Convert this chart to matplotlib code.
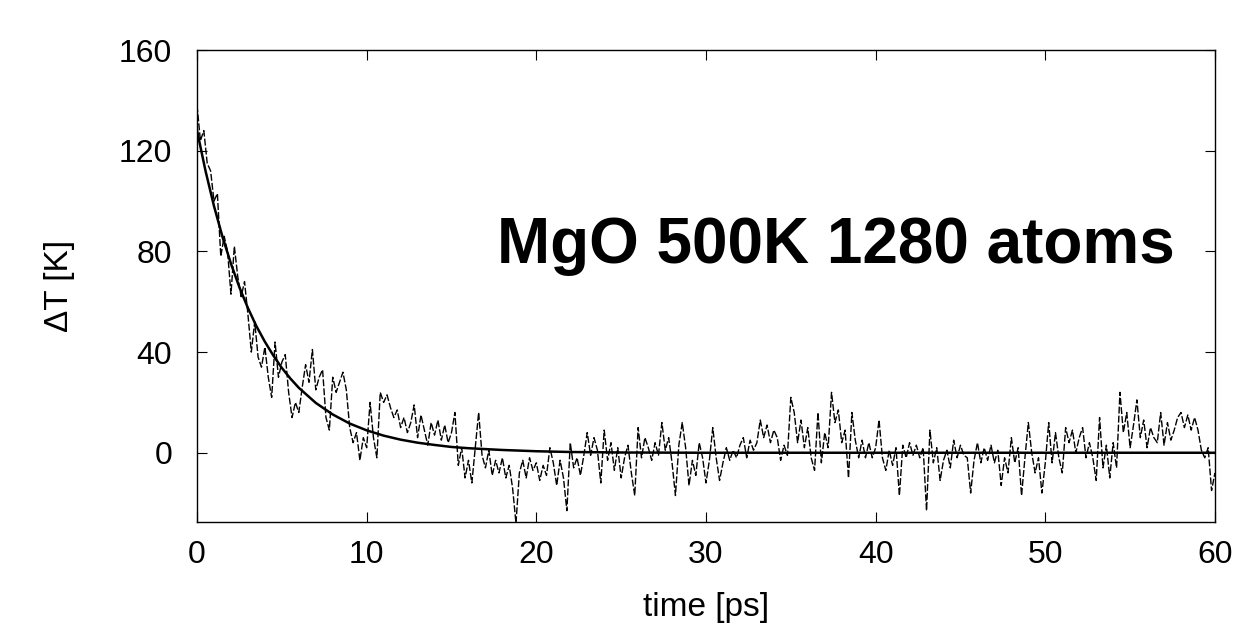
import numpy as np
import matplotlib
matplotlib.use("Agg")
import matplotlib.pyplot as plt

plt.rcParams['font.family'] = ['Liberation Sans', 'DejaVu Sans']

time_ps = np.round(np.arange(0, 60.01, 0.2), 1)
delta_t = [
    138, 124, 128, 115, 112, 100, 103, 78, 86, 80,
    63, 82, 70, 62, 68, 55, 40, 52, 38, 34,
    42, 30, 22, 44, 30, 36, 39, 24, 14, 20,
    16, 26, 35, 28, 41, 25, 30, 33, 14, 9,
    30, 24, 28, 32, 25, 10, 4, 8, -3, 6,
    2, 20, 6, -2, 24, 20, 23, 18, 14, 17,
    10, 14, 8, 12, 19, 6, 15, 9, 3, 12,
    7, 13, 5, 11, 4, 8, 16, -5, 2, -10,
    -3, -12, 2, 16, -1, -6, 1, -9, -3, -8,
    -2, -10, -5, -14, -28, -8, -3, -10, -2, -7,
    -4, -11, -5, -9, 2, -4, -13, -3, -10, -23,
    4, -6, -2, -9, -1, 8, -1, 6, 1, -12,
    9, -3, 4, -7, 2, -10, -2, 3, -8, -17,
    10, -2, 6, 2, -3, 4, -1, 12, 1, 6,
    -4, -17, 3, 12, 2, -13, -3, -9, 4, -2,
    -12, -3, 10, -2, -11, -4, 2, -3, 1, -2,
    3, 6, -2, 5, 1, 4, 13, 6, 11, 4,
    9, 6, -3, 3, -1, 22, 16, 4, 13, 2,
    10, -2, -7, 16, -4, 8, 2, 24, 12, 17,
    4, 9, -10, 16, 5, -2, 5, -2, 4, -2,
    2, 13, -2, -7, 1, -5, 2, -17, 3, -2,
    4, -1, 3, -2, 2, -23, 9, -4, 2, -11,
    -3, 1, -6, 5, -2, 3, -1, -2, -16, -3,
    4, -4, 2, -3, 3, -4, 1, -13, -2, -8,
    6, -4, 2, -17, -2, 12, 0, -8, -2, -16,
    -4, 12, -4, 8, -2, -8, 10, 4, 9, 0,
    6, 10, -2, 4, -2, -11, 14, -6, 3, -10,
    4, -6, 24, 8, 16, 2, 11, 21, 6, 13,
    2, 10, 6, 4, 16, 3, 12, 5, 9, 14,
    16, 10, 15, 9, 14, 9, 1, -2, 2, -15,
    -8,
]

# exponential fit, read at a few points
fit_time = [0, 0.5, 1, 1.5, 2, 2.5, 3, 3.5, 4, 4.5, 5, 5.5, 6, 7, 8, 9, 10,
            11, 12, 13, 14, 15, 16, 18, 20, 22, 25, 30, 60]
fit_dt = [128, 112.0, 98.0, 85.8, 75.1, 65.7, 57.5, 50.3, 44.1, 38.6, 33.7,
          29.5, 25.8, 19.8, 15.2, 11.6, 8.9, 6.8, 5.2, 4.0, 3.1, 2.3, 1.8,
          1.1, 0.6, 0.3, 0.1, 0, 0]

fig = plt.figure(figsize=(12.47, 6.33), dpi=100)
ax = fig.add_axes([0.158, 0.1754, 0.8163, 0.7456])

ax.plot(time_ps, delta_t, color='black', lw=1.0, dashes=(5, 1.5))
ax.plot(fit_time, fit_dt, color='black', lw=1.8)

ax.set_xlim(0, 60)
ax.set_ylim(-27.5, 160)
ax.set_xticks([0, 10, 20, 30, 40, 50, 60])
ax.set_yticks([0, 40, 80, 120, 160])
ax.tick_params(direction='in', length=7, width=0.8, top=True, right=True,
               labelsize=23, colors='black')
ax.tick_params(axis='y', pad=18)
ax.tick_params(axis='x', pad=13)
for s in ax.spines.values():
    s.set_linewidth(1.0)

ax.set_xlabel('time [ps]', fontsize=24)
ax.set_ylabel('ΔT [K]', fontsize=24)
ax.yaxis.set_label_coords(-0.12, 0.5)
ax.xaxis.set_label_coords(0.5, -0.148)

ax.text(37.65, 75.4, 'MgO 500K 1280 atoms', fontsize=46, fontweight='bold',
        ha='center', va='baseline')

fig.savefig('out.png', dpi=100)
